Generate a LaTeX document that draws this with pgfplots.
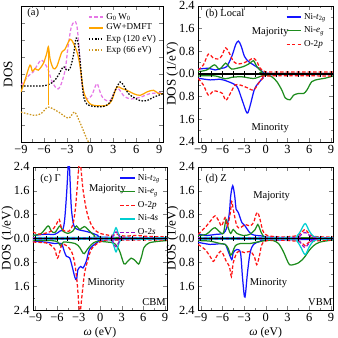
\documentclass[border=0pt]{standalone}
\usepackage{pgfplots}
\pgfplotsset{compat=1.18}
\usepackage{fontspec}
\setmainfont{Liberation Serif}
\definecolor{cblue}{RGB}{20,20,255}
\definecolor{cgreen}{RGB}{30,140,30}
\definecolor{cred}{RGB}{255,20,20}
\definecolor{ccyan}{RGB}{0,206,209}
\definecolor{cpurp}{RGB}{150,20,200}
\definecolor{cviol}{RGB}{230,120,230}
\definecolor{corange}{RGB}{255,165,0}
\definecolor{cgold}{RGB}{205,150,30}
\tikzset{lab/.style={font=\fontsize{7.6}{8.5}\selectfont}}
\pgfplotsset{
  base/.style={scale only axis, tick align=inside, major tick length=3pt, minor tick length=1.8pt,
    ticklabel style={font=\fontsize{9}{10}\selectfont},
    xlabel style={font=\fontsize{8.5}{10}\selectfont},
    ylabel style={font=\fontsize{9.5}{10}\selectfont},
    xtick={-9,-6,-3,0,3,6,9}, xticklabels={−9,−6,−3,0,3,6,9}, minor x tick num=1,
    xticklabel style={yshift=1pt},
    every axis plot/.append style={line width=0.9pt},
    legend cell align=left,
    legend image post style={xscale=0.6},
  },
  dos/.style={base, xmin=-9.35, xmax=9.3, ymin=-2.4, ymax=2.4,
    ytick={-2.4,-1.6,-0.8,0,0.8,1.6,2.4}, yticklabels={2.4,1.6,0.8,0.0,0.8,1.6,2.4},
    yticklabel style={xshift=1pt},
    minor y tick num=1, ylabel={DOS (1/eV)}, ylabel style={at={(axis description cs:-0.19,0.5)}, anchor=center},
    xlabel style={at={(axis description cs:0.5,-0.16)}, anchor=center},
    legend style={draw=none, fill=none, font=\fontsize{6.6}{7.5}\selectfont, at={(1,1)}, anchor=north east, xshift=0pt, yshift=-1pt, row sep=0pt}},
  bl/.style={cblue, smooth},
  gr/.style={cgreen, smooth},
  rd/.style={cred, smooth, dash pattern=on 2.5pt off 1.5pt},
  cy/.style={ccyan, smooth},
  pu/.style={cpurp, smooth, dash pattern=on 2.5pt off 1.5pt},
  zl/.style={black, line width=0.9pt, forget plot},
  zm/.style={black, only marks, mark=|, mark size=2pt, forget plot, mark options={line width=0.6pt}},
}
\newcommand{\zeroline}{%
  \addplot[zl] coordinates {(-9.35,0) (9.3,0)};
  \addplot[zm] coordinates {(-9,0) (-7.5,0) (-6,0) (-4.5,0) (-3,0) (-1.5,0) (0,0) (1.5,0) (3,0) (4.5,0) (6,0) (7.5,0) (9,0)};
}
\begin{document}
\begin{tikzpicture}
\useasboundingbox (0,0) rectangle (245pt,245pt);
% ---------------- (a)
\begin{axis}[base, at={(15.2pt,142.1pt)}, anchor=south west, width=103pt, height=98.6pt,
  xmin=-9, xmax=9.5, ymin=0, ymax=8, ytick={0,1,...,8}, yticklabels={}, ylabel={DOS},
  ylabel style={at={(axis description cs:-0.09,0.5)}, anchor=center},
  legend style={draw=none, fill=none, font=\fontsize{6.6}{7.5}\selectfont, at={(1,1)}, anchor=north east, xshift=0pt, yshift=-1pt, row sep=-2pt}]
\addlegendimage{cviol, line width=1pt, dash pattern=on 2.5pt off 1.5pt}
\addlegendentry{G\textsubscript{0}\,W\textsubscript{0}}
\addlegendimage{corange, line width=1pt}
\addlegendentry{GW+DMFT}
\addlegendimage{black, line width=1pt, dash pattern=on 1.1pt off 1.1pt}
\addlegendentry{Exp (120 eV)}
\addlegendimage{cgold, line width=1pt, dash pattern=on 1.1pt off 1.1pt}
\addlegendentry{Exp (66 eV)}
\addplot[cviol, smooth, dash pattern=on 2.5pt off 1.5pt, forget plot] coordinates {
(-9,3.33) (-8,3.9) (-7.4,4.12) (-6.9,4.5) (-6.3,4.81) (-5.5,4.3) (-5.0,3.6) (-4.35,3.14) (-3.9,3.25) (-3.26,4.2) (-2.9,5.5) (-2.48,6.7) (-2.05,7.08) (-1.75,6.9) (-1.5,5.9) (-1.2,4.0) (-0.87,2.92) (-0.43,2.53) (0.2,2.73) (0.87,3.43) (1.3,2.94) (1.74,2.53) (2.6,2.43) (3.26,3.03) (3.7,3.13) (4.35,2.73) (5.2,2.53) (6.52,2.63) (7.8,2.84) (9.5,2.9)};
\addplot[corange, smooth, forget plot] coordinates {
(-9,2.94) (-8.5,3.6) (-7.83,4.52) (-7.52,4.16) (-7.17,4.32) (-6.74,4.22) (-6.09,4.62) (-5.65,5.2) (-5.43,5.6) (-5.2,4.85) (-4.78,4.32) (-4.35,4.42) (-3.7,5.27) (-3.26,5.46) (-2.61,6.04) (-2.17,5.8) (-1.65,5.21) (-1.3,4.42) (-0.87,3.04) (-0.43,2.49) (0.09,2.21) (0.87,2.13) (2.17,2.15) (2.83,2.45) (3.48,3.23) (4.13,3.14) (4.78,3.04) (5.65,2.84) (6.52,2.74) (7.39,2.94) (8.26,3.04) (8.91,2.84) (9.5,2.84)};
\addplot[black, smooth, dash pattern=on 1.1pt off 1.1pt, forget plot] coordinates {
(-9,3.3) (-6.1,3.3) (-4.8,3.53) (-4.13,3.93) (-3.48,4.42) (-3.05,4.22) (-2.61,4.32) (-2.17,5.1) (-1.83,6.1) (-1.52,5.7) (-1.17,4.12) (-0.87,2.73) (-0.43,2.23) (0.43,2.09) (1.74,2.09) (2.6,2.33) (3.26,3.03) (3.91,3.53) (4.35,3.33) (5.0,2.84) (5.65,2.63) (6.52,2.43) (7.39,2.43) (8.26,2.63) (9.5,2.84)};
\addplot[cgold, smooth, dash pattern=on 1.1pt off 1.1pt, forget plot] coordinates {
(-9,1.76) (-7.2,1.56) (-6.3,1.7) (-5.44,2.05) (-4.1,1.76) (-2.83,1.4) (-2.05,1.76) (-1.53,1.36) (-0.88,0.67) (-0.43,0.18) (-0.2,0)};
\addplot[corange, line width=0.5pt, forget plot] coordinates {(-5.43,2.15) (-5.43,5.6)};
\node[lab, anchor=west] at (axis cs:-8.8,7.57) {(a)};
\end{axis}
% ---------------- (b)
\begin{axis}[dos, at={(143.6pt,142.1pt)}, anchor=south west, width=97.9pt, height=98.6pt]
\addlegendimage{cblue, line width=1pt}
\addlegendentry{Ni-\textit{t}\textsubscript{2\textit{g}}}
\addlegendimage{cgreen, line width=1pt}
\addlegendentry{Ni-\textit{e}\textsubscript{\textit{g}}}
\addlegendimage{cred, line width=1pt, dash pattern=on 2.5pt off 1.5pt}
\addlegendentry{O-2\textit{p}}
\addplot[bl, forget plot] coordinates {(-9.35,0.17) (-7.94,0.2) (-7.0,0.14) (-6.1,0.2) (-5.4,0.26) (-4.7,0.62) (-4.15,1.04) (-3.78,1.16) (-3.4,0.98) (-2.95,0.62) (-2.4,0.44) (-1.7,0.32) (-1.0,0.2) (-0.32,0.05) (0.4,0.02) (9.3,0.02)};
\addplot[gr, forget plot] coordinates {(-9.35,0.08) (-8.16,0.14) (-7.1,0.32) (-6.4,0.17) (-5.55,0.38) (-5.1,0.26) (-4.7,0.17) (-4.0,0.2) (-3.09,0.26) (-2.17,0.38) (-1.7,0.47) (-1.24,0.26) (-0.55,0.08) (-0.1,0.02) (9.3,0.02)};
\addplot[rd, forget plot] coordinates {(-9.35,0.14) (-8.62,0.32) (-7.93,0.7) (-7.24,0.56) (-6.54,0.53) (-6.08,0.64) (-5.55,0.92) (-4.93,0.68) (-4.47,0.44) (-3.78,0.35) (-2.86,0.41) (-2.17,0.5) (-1.7,0.56) (-1.24,0.44) (-0.78,0.2) (-0.1,0.08) (1,0.07) (9.3,0.07)};
\addplot[bl, forget plot] coordinates {(-9.35,-0.15) (-7.7,-0.21) (-6.3,-0.19) (-5.2,-0.27) (-4.0,-0.44) (-3.3,-0.9) (-2.6,-1.38) (-2.2,-1.15) (-1.6,-0.56) (-1.05,-0.33) (-0.4,-0.15) (0.3,-0.03) (9.3,-0.02)};
\addplot[gr, forget plot] coordinates {(-9.35,-0.07) (-7.0,-0.07) (-5.62,-0.17) (-4.7,-0.12) (-3.32,-0.1) (-1.7,-0.16) (-0.55,-0.07) (0.14,-0.04) (0.83,-0.1) (1.52,-0.27) (2.21,-0.57) (2.7,-0.85) (3.36,-0.91) (3.82,-0.75) (4.52,-0.69) (5.21,-0.69) (5.67,-0.57) (6.36,-0.27) (7.28,-0.19) (8.2,-0.15) (9.3,-0.07)};
\addplot[rd, forget plot] coordinates {(-9.35,-0.16) (-8.62,-0.39) (-7.93,-0.75) (-7.24,-0.6) (-6.54,-0.63) (-5.99,-0.69) (-5.5,-0.93) (-4.79,-0.63) (-4.24,-0.39) (-3.55,-0.39) (-2.63,-0.48) (-1.7,-0.57) (-1.01,-0.33) (-0.32,-0.12) (0.14,-0.07) (9.3,-0.07)};
\zeroline
\node[lab, anchor=west] at (axis cs:-9.0,2.11) {(b) Local};
\node[lab] at (axis cs:0.6,1.49) {Majority};
\node[lab] at (axis cs:0.6,-1.92) {Minority};
\end{axis}
% ---------------- (c)
\begin{axis}[dos, at={(23.9pt,20.3pt)}, anchor=south west, width=97.2pt, height=103.7pt,
  xlabel={\textit{ω} (eV)}]
\addlegendimage{cblue, line width=1pt}
\addlegendentry{Ni-\textit{t}\textsubscript{2\textit{g}}}
\addlegendimage{cgreen, line width=1pt}
\addlegendentry{Ni-\textit{e}\textsubscript{\textit{g}}}
\addlegendimage{cred, line width=1pt, dash pattern=on 2.5pt off 1.5pt}
\addlegendentry{O-2\textit{p}}
\addlegendimage{ccyan, line width=1pt}
\addlegendentry{Ni-4\textit{s}}
\addlegendimage{cpurp, line width=1pt, dash pattern=on 2.5pt off 1.5pt}
\addlegendentry{O-2\textit{s}}
\addplot[bl, forget plot] coordinates {(-9.35,0.1) (-7.7,0.14) (-6.3,0.14) (-5.6,0.25) (-5.2,0.3) (-4.94,0.64) (-4.66,1.55) (-4.48,2.34) (-4.35,2.8) (-4.2,2.0) (-4.0,0.98) (-3.65,0.42) (-3.1,0.3) (-2.2,0.25) (-1.25,0.19) (-0.3,0.1) (0.5,0.04) (9.3,0.02)};
\addplot[gr, forget plot] coordinates {(-9.35,0.1) (-8.2,0.17) (-7.25,0.42) (-6.8,0.25) (-6.3,0.2) (-5.6,0.42) (-5.2,0.25) (-4.5,0.17) (-3.8,0.25) (-3.3,0.42) (-2.86,0.3) (-2.2,0.4) (-1.5,0.25) (-0.8,0.1) (0,0.03) (9.3,0.02)};
\addplot[rd, forget plot] coordinates {(-9.35,0.22) (-8.5,0.14) (-7.7,0.17) (-6.8,0.25) (-6.1,0.47) (-5.7,0.64) (-5.4,0.36) (-4.94,0.25) (-4.3,0.25) (-3.8,0.47) (-3.46,0.98) (-3.18,1.77) (-2.95,2.45) (-2.75,2.5) (-2.4,1.66) (-1.94,0.98) (-1.48,0.59) (-0.8,0.3) (0,0.17) (1.5,0.1) (2.4,0.14) (3.3,0.08) (5.2,0.1) (6.5,0.07) (9.3,0.05)};
\addplot[cy, forget plot] coordinates {(-9.35,0.03) (1.0,0.03) (1.6,0.06) (1.9,0.18) (2.2,0.36) (2.5,0.18) (2.8,0.05) (3.5,0.03) (9.3,0.02)};
\addplot[pu, forget plot] coordinates {(-9.35,0.02) (1.2,0.02) (1.7,0.06) (2.2,0.22) (2.7,0.06) (3.3,0.02) (9.3,0.01)};
\addplot[bl, forget plot] coordinates {(-9.35,-0.09) (-7.7,-0.12) (-6.3,-0.17) (-5.4,-0.17) (-5.0,-0.43) (-4.7,-0.6) (-4.25,-0.65) (-3.9,-0.94) (-3.55,-1.28) (-3.3,-1.39) (-3.1,-1.05) (-2.7,-0.94) (-2.4,-0.99) (-1.94,-0.77) (-1.5,-0.37) (-0.8,-0.2) (-0.2,-0.1) (0.5,-0.05) (9.3,-0.02)};
\addplot[gr, forget plot] coordinates {(-9.35,-0.07) (-6.8,-0.07) (-5.9,-0.12) (-5.5,-0.25) (-5.1,-0.12) (-3.5,-0.17) (-2.86,-0.3) (-2.4,-0.49) (-2.2,-0.51) (-1.8,-0.37) (-1.2,-0.2) (-0.5,-0.1) (1.0,-0.12) (2.0,-0.17) (2.66,-0.4) (3.3,-0.85) (3.7,-0.8) (4.3,-0.66) (4.9,-0.75) (5.35,-0.86) (5.76,-0.6) (6.1,-0.3) (6.8,-0.15) (7.95,-0.1) (9.3,-0.07)};
\addplot[rd, forget plot] coordinates {(-9.35,-0.12) (-7.5,-0.15) (-6.8,-0.24) (-6.3,-0.37) (-5.95,-0.66) (-5.6,-0.43) (-5.3,-0.2) (-4.7,-0.24) (-4.0,-0.43) (-3.55,-0.83) (-3.2,-1.5) (-2.95,-2.29) (-2.8,-2.5) (-2.55,-1.95) (-2.17,-1.16) (-1.7,-0.71) (-1.25,-0.37) (-0.6,-0.2) (0.3,-0.08) (1.5,-0.05) (9.3,-0.05)};
\addplot[cy, forget plot] coordinates {(-9.35,-0.03) (1.0,-0.03) (1.6,-0.08) (1.9,-0.25) (2.2,-0.45) (2.5,-0.25) (2.8,-0.06) (3.5,-0.03) (9.3,-0.02)};
\addplot[pu, forget plot] coordinates {(-9.35,-0.02) (1.2,-0.02) (1.7,-0.08) (2.2,-0.28) (2.7,-0.08) (3.3,-0.02) (9.3,-0.01)};
\zeroline
\node[lab, anchor=west] at (axis cs:-9.0,2.0) {(c) Γ};
\node[lab] at (axis cs:1.0,1.66) {Majority};
\node[lab] at (axis cs:0.85,-1.5) {Minority};
\node[lab] at (axis cs:7.5,-2.12) {CBM};
\end{axis}
% ---------------- (d)
\begin{axis}[dos, at={(143.6pt,20.3pt)}, anchor=south west, width=97.9pt, height=103.7pt,
  xlabel={\textit{ω} (eV)}]
\addplot[bl] coordinates {(-9.35,0.12) (-9.1,0.14) (-8.2,0.1) (-6.8,0.14) (-5.87,0.17) (-5.4,0.36) (-5.03,0.87) (-4.85,1.43) (-4.57,1.77) (-4.3,1.43) (-4.1,0.98) (-3.8,0.87) (-3.3,0.53) (-2.86,0.42) (-2.4,0.25) (-1.94,0.14) (-1.3,0.1) (-0.3,0.08) (0.5,0.04) (9.3,0.02)};
\addplot[gr] coordinates {(-9.35,0.1) (-8.2,0.14) (-7.47,0.3) (-7.0,0.36) (-6.5,0.25) (-5.87,0.17) (-5.5,0.64) (-5.2,0.36) (-4.85,0.17) (-4.5,0.3) (-4.0,0.17) (-3.1,0.1) (-2.2,0.14) (-1.48,0.3) (-1.1,0.47) (-0.8,0.3) (-0.4,0.1) (0.5,0.03) (9.3,0.02)};
\addplot[rd] coordinates {(-9.35,0.14) (-8.2,0.42) (-7.47,0.64) (-7.0,0.76) (-6.5,0.59) (-6.1,0.42) (-5.63,0.7) (-5.3,0.42) (-4.94,0.81) (-4.7,1.24) (-4.5,0.98) (-4.0,0.42) (-3.5,0.36) (-2.86,0.47) (-2.2,0.42) (-1.7,0.53) (-1.34,0.81) (-1.1,0.87) (-0.8,0.64) (-0.4,0.25) (0.2,0.1) (2,0.05) (4.0,0.08) (4.7,0.15) (5.43,0.3) (6.1,0.12) (7,0.06) (9.3,0.05)};
\addplot[cy] coordinates {(-9.35,0.03) (3.5,0.03) (4.3,0.08) (4.8,0.25) (5.43,0.5) (6.0,0.25) (6.6,0.07) (7.5,0.03) (9.3,0.02)};
\addplot[pu] coordinates {(-9.35,0.02) (3.8,0.02) (4.6,0.07) (5.4,0.2) (6.2,0.07) (7.0,0.02) (9.3,0.01)};
\addplot[bl] coordinates {(-9.35,-0.13) (-7.7,-0.2) (-6.5,-0.18) (-5.6,-0.2) (-5.2,-0.43) (-4.7,-0.71) (-4.5,-0.48) (-4.0,-0.37) (-3.5,-0.48) (-3.23,-1.28) (-2.96,-1.95) (-2.8,-1.84) (-2.54,-1.16) (-2.17,-0.48) (-1.7,-0.2) (-0.8,-0.1) (0.2,-0.06) (9.3,-0.02)};
\addplot[gr] coordinates {(-9.35,-0.07) (-7.7,-0.09) (-6.3,-0.17) (-5.6,-0.2) (-5.2,-0.33) (-4.85,-0.56) (-4.57,-0.45) (-4.2,-0.24) (-3.5,-0.17) (-2.2,-0.17) (-1.2,-0.12) (0,-0.07) (1.0,-0.07) (1.75,-0.17) (2.4,-0.43) (2.9,-0.71) (3.27,-0.88) (3.8,-0.88) (4.5,-0.82) (4.96,-0.73) (5.43,-0.6) (5.9,-0.43) (6.6,-0.24) (7.5,-0.12) (9.3,-0.05)};
\addplot[rd] coordinates {(-9.35,-0.2) (-8.4,-0.37) (-7.7,-0.6) (-7.25,-0.77) (-6.8,-0.6) (-6.25,-0.43) (-5.87,-0.54) (-5.5,-0.75) (-5.03,-0.94) (-4.75,-1.28) (-4.5,-0.82) (-4.0,-0.48) (-3.5,-0.43) (-2.86,-0.48) (-2.17,-0.43) (-1.6,-0.6) (-1.25,-0.88) (-0.9,-0.6) (-0.6,-0.24) (-0.2,-0.1) (1,-0.05) (4.5,-0.1) (5.43,-0.24) (6.2,-0.1) (9.3,-0.05)};
\addplot[cy] coordinates {(-9.35,-0.03) (3.5,-0.03) (4.3,-0.09) (4.8,-0.28) (5.43,-0.54) (6.0,-0.28) (6.6,-0.08) (7.5,-0.03) (9.3,-0.02)};
\addplot[pu] coordinates {(-9.35,-0.02) (3.8,-0.02) (4.6,-0.09) (5.4,-0.3) (6.2,-0.09) (7.0,-0.02) (9.3,-0.01)};
\zeroline
\node[lab, anchor=west] at (axis cs:-9.0,2.0) {(d) Z};
\node[lab] at (axis cs:0.8,1.43) {Majority};
\node[lab] at (axis cs:0.36,-1.5) {Minority};
\node[lab] at (axis cs:7.5,-2.12) {VBM};
\end{axis}
\end{tikzpicture}
\end{document}
